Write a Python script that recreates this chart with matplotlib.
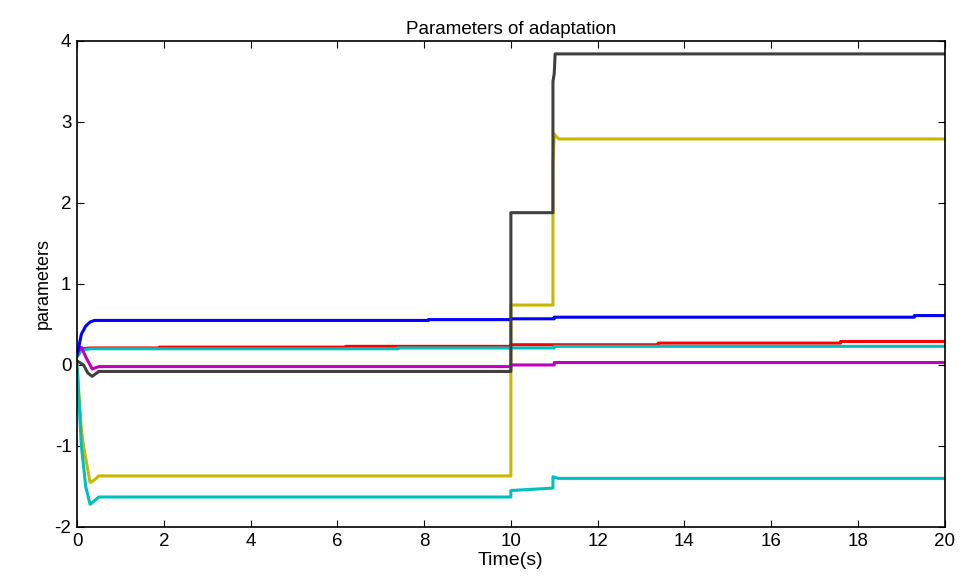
import numpy as np
import matplotlib
matplotlib.use('Agg')
import matplotlib.pyplot as plt

plt.rcParams['font.family'] = ['Liberation Sans', 'DejaVu Sans']
plt.rcParams['axes.unicode_minus'] = False

# Valores (tempo, parâmetro)
t_azul = [0, 0.05, 0.1, 0.2, 0.3, 0.4, 8.1, 8.1, 10, 10, 11, 11, 19.3, 19.3, 20]
v_azul = [0.12, 0.25, 0.38, 0.48, 0.53, 0.55, 0.55, 0.56, 0.56, 0.57, 0.57, 0.59, 0.59, 0.61, 0.61]

t_vermelho = [0, 0.1, 0.3, 1.9, 1.9, 6.2, 6.2, 10, 10, 13.4, 13.4, 17.6, 17.6, 20]
v_vermelho = [0.15, 0.2, 0.21, 0.21, 0.22, 0.22, 0.23, 0.23, 0.25, 0.25, 0.27, 0.27, 0.29, 0.29]

t_ciano1 = [0, 0.1, 0.3, 7.4, 7.4, 11, 11, 20]
v_ciano1 = [0.1, 0.18, 0.2, 0.2, 0.21, 0.21, 0.23, 0.23]

t_magenta = [0, 0.1, 0.2, 0.35, 0.5, 10, 10, 11, 11, 20]
v_magenta = [0.15, 0.22, 0.1, -0.05, -0.02, -0.02, 0.0, 0.0, 0.03, 0.03]

t_cinza = [0, 0.15, 0.25, 0.35, 0.5, 10, 10, 10.97, 10.97, 11.0, 11.02, 20]
v_cinza = [0.05, 0.0, -0.1, -0.14, -0.08, -0.08, 1.88, 1.88, 3.5, 3.6, 3.84, 3.84]

t_oliva = [0, 0.1, 0.15, 0.25, 0.3, 0.4, 0.5, 10, 10, 10.97, 10.97, 11.0, 11.1, 20]
v_oliva = [0.0, -0.8, -1.0, -1.3, -1.45, -1.42, -1.37, -1.37, 0.74, 0.74, 2.5, 2.85, 2.79, 2.79]

t_ciano2 = [0, 0.05, 0.1, 0.2, 0.3, 0.35, 0.5, 10, 10, 10.97, 10.97, 11.1, 20]
v_ciano2 = [0.0, -0.5, -1.0, -1.5, -1.72, -1.7, -1.63, -1.63, -1.55, -1.52, -1.38, -1.40, -1.40]

fig = plt.figure(figsize=(9.63, 5.8), dpi=100)
ax = fig.add_axes([0.080, 0.0914, 0.901, 0.838])

lw = 2.2
ax.plot(t_oliva, v_oliva, color=(0.78, 0.72, 0.0), lw=lw)
ax.plot(t_ciano2, v_ciano2, color=(0.0, 0.75, 0.75), lw=lw)
ax.plot(t_vermelho, v_vermelho, color='r', lw=lw)
ax.plot(t_ciano1, v_ciano1, color=(0.0, 0.75, 0.75), lw=lw)
ax.plot(t_magenta, v_magenta, color=(0.75, 0.0, 0.75), lw=lw)
ax.plot(t_azul, v_azul, color='b', lw=lw)
ax.plot(t_cinza, v_cinza, color=(0.25, 0.25, 0.25), lw=lw)

ax.set_xlim(0, 20)
ax.set_ylim(-2, 4)
ax.set_xticks(np.arange(0, 21, 2))
ax.set_yticks(np.arange(-2, 5, 1))
ax.tick_params(direction='in', top=True, right=True, labelsize=13.5, length=5, pad=4)
for s in ax.spines.values():
    s.set_linewidth(1.2)

ax.set_title('Parameters of adaptation', fontsize=13.5, pad=5)
ax.set_xlabel('Time(s)', fontsize=14, labelpad=2)
ax.set_ylabel('parameters', fontsize=13, labelpad=2)

fig.savefig('out.png', dpi=100)
